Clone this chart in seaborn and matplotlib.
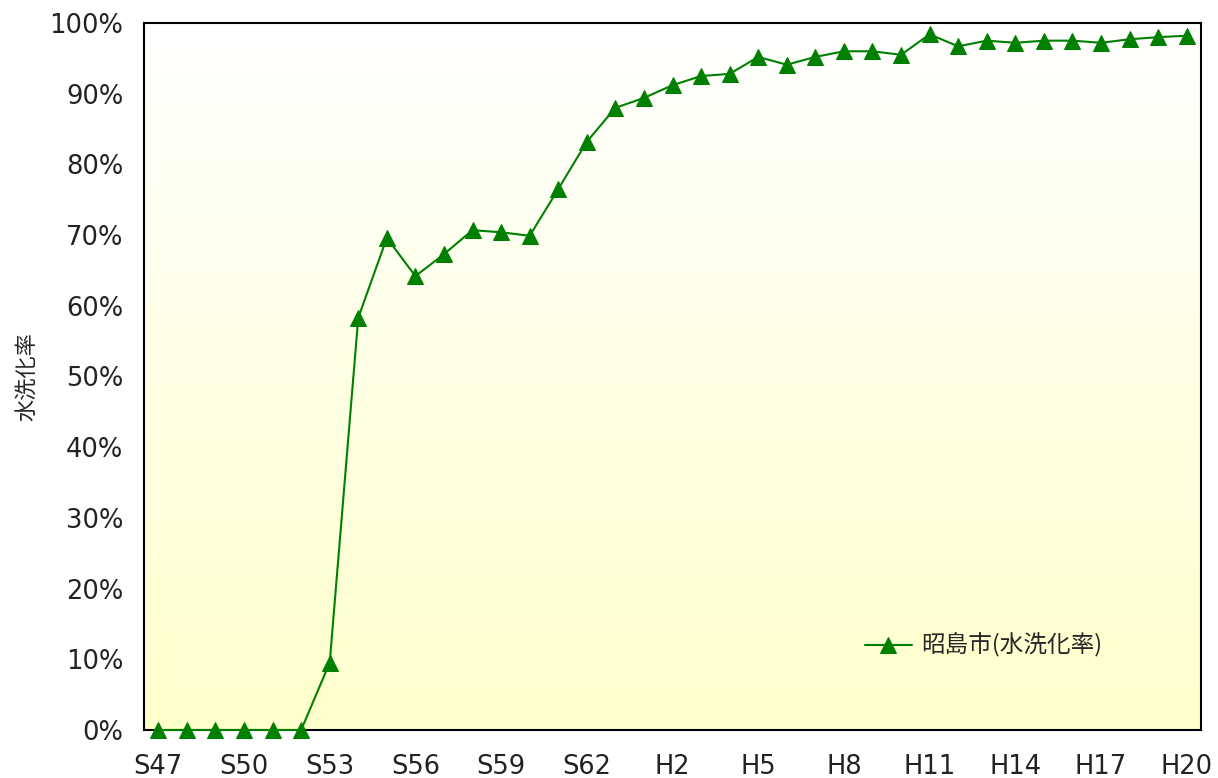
import numpy as np
import pandas as pd
import matplotlib
matplotlib.use('Agg')
import matplotlib.pyplot as plt
from matplotlib.colors import LinearSegmentedColormap
from matplotlib.ticker import FuncFormatter
import seaborn as sns

# 年度 (S47 ~ H20)
tahun = [f'S{i}' for i in range(47, 64)] + [f'H{i}' for i in range(1, 21)]
# 水洗化率 (%)
rasio = [0, 0, 0, 0, 0, 0, 9.5, 58.3, 69.6, 64.2, 67.3, 70.7, 70.4, 69.9,
         76.5, 83.2, 88.0, 89.4, 91.2, 92.5, 92.8, 95.2, 94.1, 95.2, 96.0,
         96.0, 95.5, 98.4, 96.7, 97.5, 97.2, 97.5, 97.5, 97.2, 97.7, 98.0,
         98.2]
label_tick = ['S47', 'S50', 'S53', 'S56', 'S59', 'S62', 'H2', 'H5', 'H8',
              'H11', 'H14', 'H17', 'H20']
nama_seri = '昭島市(水洗化率)'

df = pd.DataFrame({'idx': np.arange(len(tahun)), 'rasio': rasio,
                   'seri': nama_seri})

sns.set_style('white')
plt.rcParams['font.family'] = ['DejaVu Sans', 'Noto Sans CJK JP']
cjk = ['Noto Sans CJK JP', 'DejaVu Sans']

fig = plt.figure(figsize=(12.18, 7.78), dpi=100)
ax = fig.add_axes([144 / 1218, 48 / 778, 1057 / 1218, 707 / 778])

# Background gradasi putih -> kuning muda
cmap = LinearSegmentedColormap.from_list('bg', ['#ffffff', '#ffffcc'])
grad = np.linspace(0, 1, 256).reshape(-1, 1)
ax.imshow(grad, cmap=cmap, aspect='auto', extent=[-0.5, len(tahun) - 0.5, 0, 100],
          origin='upper', zorder=0)

sns.lineplot(data=df, x='idx', y='rasio', hue='seri', palette=['#008000'],
             marker='^', markersize=11, markeredgecolor='#008000',
             linewidth=1.5, ax=ax, zorder=3, clip_on=False)

ax.set_xlim(-0.5, len(tahun) - 0.5)
ax.set_ylim(0, 100)

posisi = [tahun.index(t) for t in label_tick]
ax.set_xticks(posisi)
ax.set_xticklabels(label_tick, fontsize=18.5, color='#222222')
ax.set_xticks(np.arange(-0.5, len(tahun), 1), minor=True)
ax.tick_params(axis='x', which='major', length=0, pad=17)
ax.tick_params(axis='x', which='minor', direction='in', length=6, width=1,
               color='#555555')

ax.set_yticks(np.arange(0, 101, 10))
ax.yaxis.set_major_formatter(FuncFormatter(lambda v, p: f'{v:.0f}%'))
ax.tick_params(axis='y', direction='in', length=7, width=1, labelsize=18.5,
               pad=15, color='#333333', labelcolor='#222222')

for s in ax.spines.values():
    s.set_visible(True)
    s.set_color('black')
    s.set_linewidth(1.5)

ax.set_xlabel('')
ax.set_ylabel('水洗化率', fontsize=16, labelpad=8, family=cjk)

ax.legend(loc='lower right', bbox_to_anchor=(0.927, 0.072), frameon=False,
          prop={'family': cjk, 'size': 17},
          handlelength=2.0, handletextpad=0.4)

plt.savefig('out.png', dpi=100)
